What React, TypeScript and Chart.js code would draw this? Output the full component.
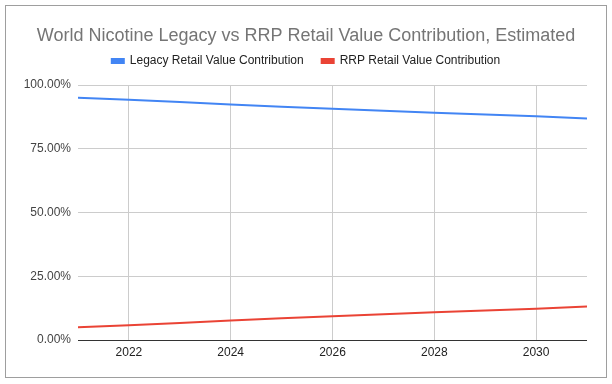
import React, { useEffect, useRef } from "react";
import { Chart, registerables } from "chart.js";

Chart.register(...registerables);

const years = [2021, 2022, 2023, 2024, 2025, 2026, 2027, 2028, 2029, 2030, 2031];
const rrpValues = [5.0, 5.8, 6.7, 7.6, 8.5, 9.3, 10.1, 10.9, 11.6, 12.3, 13.1];
const legacyValues = [95.0, 94.2, 93.3, 92.4, 91.5, 90.7, 89.9, 89.1, 88.4, 87.7, 86.9];
const xTicks = [2022, 2024, 2026, 2028, 2030];
const yTicks = [0, 25, 50, 75, 100];
const titleText = "World Nicotine Legacy vs RRP Retail Value Contribution, Estimated";
const legacyLabel = "Legacy Retail Value Contribution";
const rrpLabel = "RRP Retail Value Contribution";

const FONT = "'Liberation Sans', Arial, sans-serif";

export default function App() {
  const ref = useRef<HTMLCanvasElement | null>(null);
  useEffect(() => {
    if (!ref.current) return;
    const chart = new Chart(ref.current, {
      type: "line",
      data: {
        datasets: [
          {
            label: legacyLabel,
            data: years.map((y, i) => ({ x: y, y: legacyValues[i] })),
            borderColor: "#4285f4",
            backgroundColor: "#4285f4",
            borderWidth: 2,
            pointRadius: 0,
            tension: 0,
          },
          {
            label: rrpLabel,
            data: years.map((y, i) => ({ x: y, y: rrpValues[i] })),
            borderColor: "#ea4335",
            backgroundColor: "#ea4335",
            borderWidth: 2,
            pointRadius: 0,
            tension: 0,
          },
        ],
      },
      options: {
        responsive: false,
        animation: false,
        layout: { padding: 0 },
        plugins: {
          title: {
            display: true,
            text: titleText,
            color: "#757575",
            font: { family: FONT, size: 18, weight: "normal" },
            padding: { top: 25, bottom: -9.6 },
          },
          subtitle: {
            display: true,
            text: "",
            weight: 500,
            font: { family: FONT, size: 8, lineHeight: 1 },
            padding: 0,
          },
          legend: {
            display: true,
            labels: {
              color: "#222222",
              font: { family: FONT, size: 12 },
              boxWidth: 12,
              boxHeight: 4,
              padding: 18,
            },
          },
          tooltip: { enabled: false },
        },
        scales: {
          x: {
            type: "linear",
            min: 2021,
            max: 2031,
            afterBuildTicks: (scale: any) => {
              scale.ticks = xTicks.map((v) => ({ value: v }));
            },
            afterFit: (scale: any) => {
              scale.height = 44;
              scale.paddingRight = 25;
              scale.paddingLeft = 0;
            },
            grid: {
              color: "#cccccc",
              drawTicks: false,
            },
            border: { display: false },
            ticks: {
              color: "#222222",
              font: { family: FONT, size: 12 },
              padding: 5,
              maxRotation: 0,
              callback: (v: any) => String(v),
            },
          },
          y: {
            min: 0,
            max: 100,
            afterBuildTicks: (scale: any) => {
              scale.ticks = yTicks.map((v) => ({ value: v }));
            },
            afterFit: (scale: any) => {
              scale.width = 78;
            },
            grid: {
              color: (ctx: any) => (ctx.tick && ctx.tick.value === 0 ? "#333333" : "#cccccc"),
              drawTicks: false,
            },
            border: { display: false },
            ticks: {
              color: "#444444",
              font: { family: FONT, size: 12 },
              padding: 7,
              callback: (v: any) => Number(v).toFixed(2) + "%",
            },
          },
        },
      },
    });
    return () => chart.destroy();
  }, []);

  return (
    <div style={{ position: "absolute", left: 0, top: 0, width: 612, height: 384, background: "#fff" }}>
      <div
        style={{
          position: "absolute",
          left: 5,
          top: 5,
          width: 602,
          height: 373,
          boxSizing: "border-box",
          border: "1px solid #9e9e9e",
        }}
      />
      <canvas ref={ref} width={612} height={384} style={{ position: "absolute", left: 0, top: 0 }} />
    </div>
  );
}
